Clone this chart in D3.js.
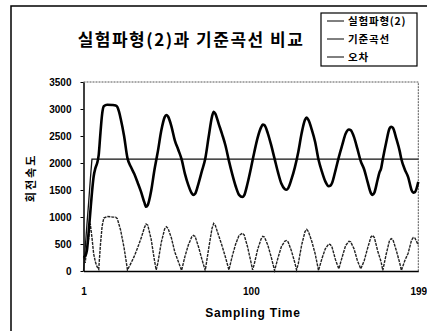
<!DOCTYPE html>
<html>
<head>
<meta charset="utf-8">
<script src="https://cdn.jsdelivr.net/npm/d3@7/dist/d3.min.js"></script>
<style>
  html, body { margin: 0; padding: 0; background: #fff; }
  .kr { font-family: "Noto Sans CJK KR", sans-serif; font-weight: bold; }
  .num { font-family: "Liberation Sans", Arial, sans-serif; font-weight: bold; }
</style>
</head>
<body>
<div id="graph"></div>
<script>
// chart text
const title = '실험파형(2)과 기준곡선 비교';
const yTitle = '회전속도';
const xTitle = 'Sampling Time';
const seriesNames = ['실험파형(2)', '기준곡선', '오차'];
const yTicks = [0, 500, 1000, 1500, 2000, 2500, 3000, 3500];
const xTicks = [1, 100, 199];

// 실험파형(2): sample index / value
const waveIdx = [1, 2, 3, 4, 5, 6, 7, 8, 9, 10, 11, 12, 13, 15, 18, 20, 21, 22, 23, 25, 27, 29, 31, 33, 35, 37, 38, 39, 41, 43, 44, 45, 47, 49, 50, 51, 53, 55, 57, 59, 61, 63, 65, 66, 67, 69, 71, 73, 75, 77, 78, 79, 81, 83, 85, 87, 89, 91, 93, 95, 96, 98, 100, 102, 104, 106, 107, 108, 110, 112, 114, 116, 118, 120, 121, 122, 124, 126, 128, 130, 132, 133, 134, 136, 138, 140, 142, 144, 146, 147, 148, 150, 152, 154, 156, 158, 159, 161, 163, 165, 167, 169, 171, 172, 173, 175, 176, 177, 178, 180, 182, 183, 184, 186, 188, 189, 191, 193, 195, 196, 197, 199];
const waveVal = [250, 280, 380, 700, 1080, 1450, 1750, 1900, 1990, 2150, 2550, 2900, 3050, 3080, 3075, 3065, 3040, 2950, 2820, 2500, 2090, 1930, 1800, 1640, 1470, 1270, 1190, 1220, 1480, 1880, 2050, 2220, 2600, 2850, 2890, 2860, 2680, 2420, 2250, 2070, 1800, 1590, 1440, 1410, 1430, 1620, 1850, 2080, 2480, 2860, 2950, 2910, 2720, 2530, 2320, 2040, 1790, 1570, 1410, 1370, 1400, 1620, 1900, 2200, 2470, 2660, 2710, 2700, 2550, 2330, 2080, 1830, 1620, 1520, 1505, 1530, 1700, 1920, 2200, 2550, 2800, 2840, 2800, 2620, 2390, 2060, 1840, 1660, 1570, 1580, 1630, 1860, 2110, 2330, 2540, 2620, 2610, 2480, 2260, 2030, 1880, 1650, 1440, 1410, 1450, 1700, 1820, 1900, 2070, 2380, 2640, 2670, 2650, 2450, 2220, 2070, 1880, 1740, 1500, 1450, 1460, 1650];

// 기준곡선
const refIdx = [1, 2, 3, 4, 5, 6, 199];
const refVal = [0, 420, 850, 1250, 1680, 2070, 2070];

// 오차
const errIdx = [1, 2, 3, 4, 5, 6, 7, 8, 9, 10, 11, 12, 13, 15, 18, 20, 21, 23, 25, 27, 29, 31, 33, 35, 37, 38, 39, 41, 43, 44, 45, 47, 49, 50, 51, 53, 55, 57, 59, 61, 63, 65, 66, 67, 69, 71, 73, 75, 77, 78, 79, 81, 83, 85, 87, 89, 91, 93, 95, 96, 98, 100, 101, 102, 104, 106, 107, 108, 110, 112, 114, 116, 118, 120, 121, 122, 124, 126, 127, 128, 130, 132, 133, 134, 136, 138, 140, 142, 144, 146, 147, 148, 150, 152, 154, 156, 158, 159, 161, 163, 165, 167, 169, 171, 172, 173, 175, 177, 178, 180, 182, 183, 184, 186, 188, 189, 191, 193, 195, 196, 197, 199];
const errVal = [250, 150, 450, 600, 880, 620, 320, 170, 80, 30, 480, 830, 980, 1010, 1000, 995, 970, 750, 430, 20, 140, 270, 430, 600, 800, 870, 850, 590, 190, 20, 150, 530, 780, 820, 790, 610, 350, 180, 10, 270, 480, 630, 660, 640, 450, 220, 10, 410, 790, 880, 840, 650, 460, 250, 20, 280, 500, 660, 700, 670, 450, 170, 20, 130, 400, 590, 640, 630, 480, 260, 10, 240, 450, 550, 565, 540, 370, 150, 20, 130, 480, 730, 770, 730, 550, 320, 10, 230, 410, 500, 490, 440, 210, 40, 260, 470, 550, 540, 410, 190, 40, 190, 420, 630, 660, 620, 370, 170, 10, 310, 570, 600, 580, 380, 150, 10, 190, 330, 570, 620, 610, 480];

const W = 427;
const H = 334;
const plot = { left: 83.5, right: 418.3, top: 82, bottom: 271 };

const svg = d3.select('#graph')
  .append('svg')
    .attr('width', W)
    .attr('height', H)
    .attr('viewBox', `0 0 ${W} ${H}`);

// outer frame (left and top edges only show)
svg.append('path')
  .attr('d', `M11,331 L11,6 L427,6`)
  .attr('fill', 'none')
  .attr('stroke', '#000')
  .attr('stroke-width', 1.5);

const x = d3.scaleLinear()
  .domain([1, 199])
  .range([plot.left, plot.right]);

const y = d3.scaleLinear()
  .domain([0, 3500])
  .range([plot.bottom, plot.top]);

// plot area border, top and right dotted
svg.append('path')
  .attr('d', `M${plot.left},${plot.top} L${plot.right},${plot.top} L${plot.right},${plot.bottom}`)
  .attr('fill', 'none')
  .attr('stroke', '#555')
  .attr('stroke-width', 1)
  .attr('stroke-dasharray', '2,1');

// y axis
const axisY = svg.append('g')
  .attr('transform', `translate(${plot.left},0)`)
  .call(d3.axisLeft(y)
    .tickValues(yTicks)
    .tickFormat(d3.format('d'))
    .tickSize(3)
    .tickPadding(9)
    .tickSizeOuter(0));
axisY.select('.domain').attr('stroke-width', 1.5);
axisY.selectAll('text').attr('class', 'num').attr('font-size', 10).attr('fill', '#000');

// x axis
const axisX = svg.append('g')
  .attr('transform', `translate(0,${plot.bottom})`)
  .call(d3.axisBottom(x).tickValues(xTicks).tickSize(0).tickPadding(17).tickSizeOuter(0));
axisX.select('.domain').attr('stroke-width', 1.5);
axisX.selectAll('text').attr('class', 'num').attr('font-size', 10).attr('fill', '#000');

// lines
const line = d3.line()
  .x(d => x(d[0]))
  .y(d => y(d[1]));

const errData = d3.zip(errIdx, errVal);
const refData = d3.zip(refIdx, refVal);
const waveData = d3.zip(waveIdx, waveVal);

svg.append('path')
  .datum(errData)
  .attr('fill', 'none')
  .attr('stroke', '#222')
  .attr('stroke-width', 1.4)
  .attr('stroke-dasharray', '3,1')
  .attr('d', line);

svg.append('path')
  .datum(refData)
  .attr('fill', 'none')
  .attr('stroke', '#111')
  .attr('stroke-width', 1.3)
  .attr('d', line);

svg.append('path')
  .datum(waveData)
  .attr('fill', 'none')
  .attr('stroke', '#000')
  .attr('stroke-width', 2.6)
  .attr('stroke-linejoin', 'round')
  .attr('d', line.curve(d3.curveMonotoneX));

// titles
svg.append('text')
  .attr('class', 'kr')
  .attr('x', 191)
  .attr('y', 46)
  .attr('text-anchor', 'middle')
  .attr('font-size', 17)
  .attr('letter-spacing', 1.5)
  .text(title);

svg.append('text')
  .attr('class', 'kr')
  .attr('transform', 'translate(35,178) rotate(-90)')
  .attr('text-anchor', 'middle')
  .attr('font-size', 11)
  .attr('letter-spacing', 2)
  .text(yTitle);

svg.append('text')
  .attr('class', 'num')
  .attr('x', 253)
  .attr('y', 317)
  .attr('text-anchor', 'middle')
  .attr('font-size', 12)
  .attr('letter-spacing', 0.8)
  .text(xTitle);

// legend
const legend = svg.append('g')
  .attr('transform', 'translate(321,13)');

legend.append('rect')
  .attr('width', 96)
  .attr('height', 53)
  .attr('fill', '#fff')
  .attr('stroke', '#000')
  .attr('stroke-width', 1.2);

const items = legend.selectAll('.item')
  .data(seriesNames)
  .enter()
  .append('g')
    .attr('transform', (d, i) => `translate(0,${8 + i * 18})`);

items.append('line')
  .attr('x1', 6)
  .attr('x2', 23)
  .attr('stroke', '#000')
  .attr('stroke-width', 1);

items.append('text')
  .attr('class', 'kr')
  .attr('x', 27)
  .attr('dy', '0.36em')
  .attr('font-size', 10.5)
  .attr('letter-spacing', 0.8)
  .text(d => d);
</script>
</body>
</html>
